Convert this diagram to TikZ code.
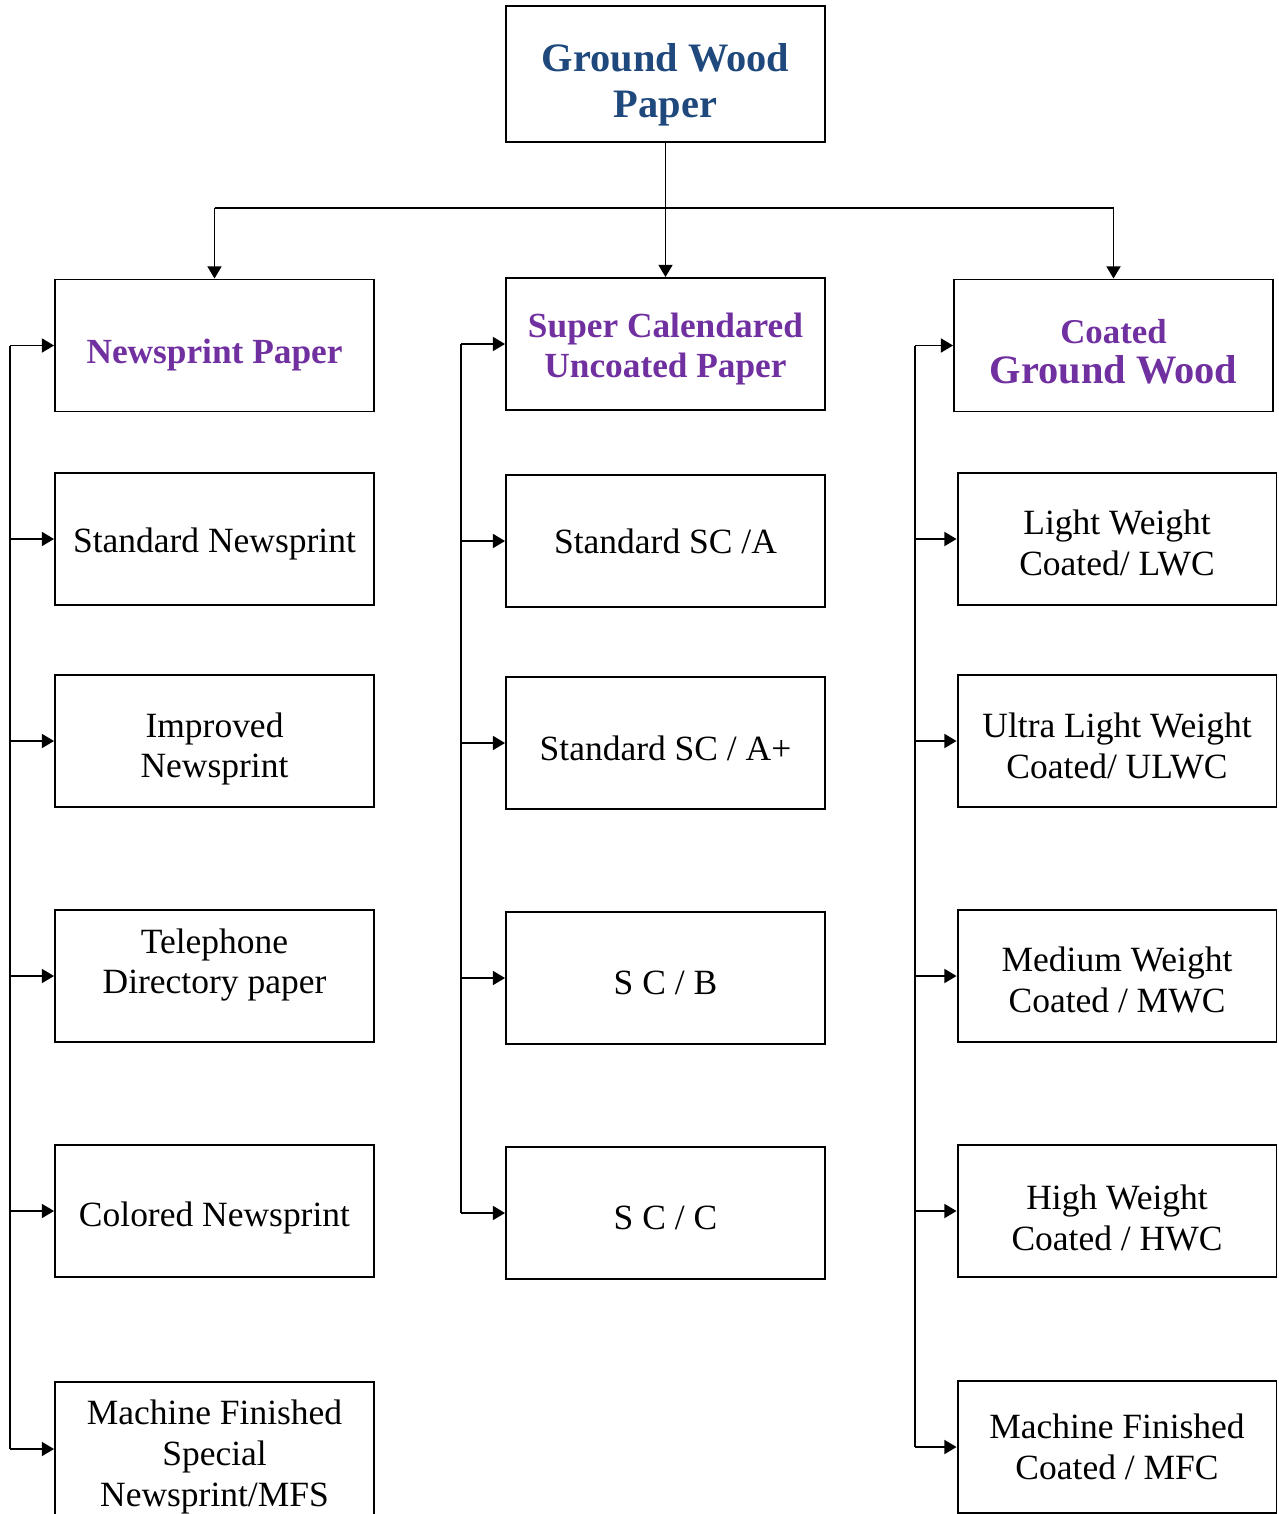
\documentclass[tikz,border=0pt]{standalone}
\usepackage{fontspec}
\setmainfont{Liberation Serif}
\usetikzlibrary{arrows.meta}
\definecolor{titleblue}{RGB}{31,73,125}
\definecolor{headpurple}{RGB}{112,48,160}

\begin{document}
\begin{tikzpicture}[x=0.02cm,y=-0.02cm,
  box/.style={draw,line width=1.1pt,minimum width=6.38cm,minimum height=2.64cm,inner sep=0pt},
  txt/.style={align=center,inner sep=0pt,font=\fontsize{20.2}{23.2}\selectfont},
  headtxt/.style={txt,text=headpurple,font=\fontsize{20.1}{22.7}\selectfont\bfseries},
  link/.style={line width=1.1pt},
  arr/.style={link,-{Triangle[length=7pt,width=8pt]}}]
\useasboundingbox (0,0) rectangle (1278,1514);
\clip (0,0) rectangle (1278,1514);
% top
\node[box,minimum height=2.72cm,label={[txt,yshift=-0.22cm,text=titleblue,font=\fontsize{23}{26}\selectfont\bfseries]center:{Ground Wood\\Paper}}] (gwp) at (665.5,74) {};
% second level
\node[box,label={[headtxt,yshift=-0.2cm]center:Newsprint Paper}] (np) at (214.5,345.5) {};
\node[box,label={[headtxt,yshift=-0.1cm]center:{Super Calendared\\Uncoated Paper}}] (sc) at (665.5,344) {};
\node[box,label={[headtxt,yshift=-0.12cm]center:{{\fontsize{19.8}{22}\selectfont Coated}\\{\fontsize{23}{25}\selectfont Ground Wood}}}] (cgw) at (1113.5,345.5) {};
% newsprint column
\foreach \n/\y/\d/\t in {snp/539/-5/{Standard Newsprint},inp/741/-8/{Improved\\Newsprint},
  tdp/976/11/{Telephone\\Directory paper},cnp/1211/-7/{Colored Newsprint}}
  \node[box,label={[txt,yshift=\d*0.02cm]center:\t}] (\n) at (214.5,\y) {};
\node[box,minimum height=2.68cm,label={[txt,yshift=-0.16cm]center:{Machine Finished\\Special\\Newsprint/MFS}}] (mfs) at (214.5,1449) {};
% sc column
\foreach \n/\y/\d/\t in {sca/541/0/{Standard SC /A},scap/743/-5/{Standard SC / A+},
  scb/978/-5/{S C / B},scc/1213/-5/{S C / C}}
  \node[box,label={[txt,yshift=\d*0.02cm]center:\t}] (\n) at (665.5,\y) {};
% coated column
\foreach \n/\y/\d/\t in {lwc/539/-4/{Light Weight\\Coated/ LWC},ulwc/741/-5/{Ultra Light Weight\\Coated/ ULWC},
  mwc/976/-4/{Medium Weight\\Coated / MWC},hwc/1211/-7/{High Weight\\Coated / HWC},
  mfc/1447/0/{Machine Finished\\Coated / MFC}}
  \node[box,label={[txt,yshift=\d*0.02cm]center:\t}] (\n) at (1117,\y) {};
% top links
\coordinate (hb) at (665.5,208);
\draw[link] (np.north |- hb) -- (cgw.north |- hb);
\draw[arr] (gwp.south) -- (sc.north);
\foreach \n in {np,cgw} \draw[arr] (\n.north |- hb) -- (\n.north);
% side feeds
\coordinate (lb) at (10,0);
\coordinate (mb) at (461,0);
\coordinate (rb) at (915,0);
\draw[link] (lb |- np.west) -- (lb |- mfs.west);
\draw[link] (mb |- sc.west) -- (mb |- scc.west);
\draw[link] (rb |- cgw.west) -- (rb |- mfc.west);
\foreach \n in {np,snp,inp,tdp,cnp,mfs} \draw[arr] (lb |- \n.west) -- (\n.west);
\foreach \n in {sc,sca,scap,scb,scc} \draw[arr] (mb |- \n.west) -- (\n.west);
\foreach \n in {cgw,lwc,ulwc,mwc,hwc,mfc} \draw[arr] (rb |- \n.west) -- (\n.west);
\end{tikzpicture}
\end{document}
